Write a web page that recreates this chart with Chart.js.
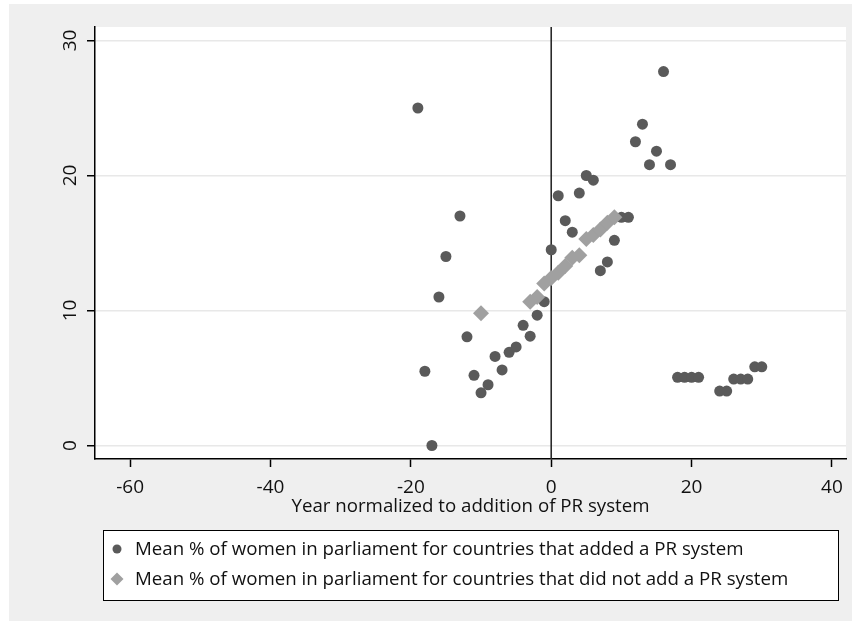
<!DOCTYPE html>
<html><head><meta charset="utf-8">
<script src="https://cdn.jsdelivr.net/npm/chart.js@4/dist/chart.umd.min.js"></script>
<style>html,body{margin:0;padding:0;background:#fff;}canvas{display:block;}</style>
</head><body>
<canvas id="c" width="856" height="625"></canvas>
<script>
// Countries that added a PR system (years relative to addition, mean % women)
const addedYears = [-19,-18,-17,-16,-15,-13,-12,-11,-10,-9,-8,-7,-6,-5,-4,-3,-2,-1,0,1,2,3,4,5,6,7,8,9,10,11,12,13,14,15,16,17,18,19,20,21,24,25,26,27,28,29,30];
const addedMeans = [25.0,5.5,0.0,11.0,14.0,17.0,8.05,5.2,3.9,4.5,6.6,5.6,6.9,7.3,8.9,8.1,9.65,10.65,14.5,18.5,16.65,15.8,18.7,20.0,19.65,12.95,13.6,15.2,16.9,16.9,22.5,23.8,20.8,21.8,27.7,20.8,5.05,5.05,5.05,5.05,4.03,4.03,4.92,4.92,4.92,5.83,5.83];
// Countries that did not add a PR system
const notAddedYears = [-10,-3,-2,-1,0,1,2,3,4,5,6,7,8,9];
const notAddedMeans = [9.8,10.65,11.0,12.0,12.4,12.8,13.3,13.9,14.1,15.3,15.6,16.0,16.5,16.9];

const seriesLabels = [
  'Mean % of women in parliament for countries that added a PR system',
  'Mean % of women in parliament for countries that did not add a PR system'
];
const xAxisTitle = 'Year normalized to addition of PR system';
const xTickValues = [-60,-40,-20,0,20,40];
const yTickValues = [0,10,20,30];

const FONT = '"Open Sans"';
const circleColor = '#5a5a5a';
const diamondColor = '#a0a0a0';

const toPoints = (xs, ys) => xs.map((x, i) => ({x: x, y: ys[i]}));

const bgPlugin = {
  id: 'bg',
  beforeDraw(chart) {
    const ctx = chart.ctx, a = chart.chartArea;
    ctx.save();
    ctx.fillStyle = '#ffffff';
    ctx.fillRect(0, 0, chart.width, chart.height);
    ctx.fillStyle = '#efefef';
    ctx.fillRect(9, 4, 843, 617);
    ctx.fillStyle = '#ffffff';
    ctx.fillRect(a.left, a.top, a.right - a.left, a.bottom - a.top);
    ctx.restore();
  },
  beforeDatasetsDraw(chart) {
    const ctx = chart.ctx, a = chart.chartArea;
    const x0 = chart.scales.x.getPixelForValue(0);
    ctx.save();
    ctx.strokeStyle = '#2a2a2a';
    ctx.lineWidth = 1.6;
    ctx.beginPath();
    ctx.moveTo(x0, a.top);
    ctx.lineTo(x0, a.bottom);
    ctx.stroke();
    ctx.restore();
  },
  afterDraw(chart) {
    const ctx = chart.ctx;
    const ys = chart.scales.y;
    ctx.save();
    // rotated y tick labels
    ctx.fillStyle = '#111';
    ctx.font = '19px ' + FONT;
    ctx.textAlign = 'center';
    ctx.textBaseline = 'middle';
    ys.ticks.forEach(t => {
      const py = ys.getPixelForValue(t.value);
      ctx.save();
      ctx.translate(71, py);
      ctx.rotate(-Math.PI / 2);
      ctx.fillText(String(t.value), 0, 0);
      ctx.restore();
    });
    // legend box
    ctx.fillStyle = '#ffffff';
    ctx.fillRect(103.5, 530.5, 735, 70);
    ctx.strokeStyle = '#000';
    ctx.lineWidth = 1;
    ctx.strokeRect(103.5, 530.5, 735, 70);
    ctx.font = '18.7px ' + FONT;
    ctx.textAlign = 'left';
    ctx.textBaseline = 'middle';
    const rows = [549, 579];
    chart.data.datasets.forEach((ds, i) => {
      const y = rows[i];
      ctx.fillStyle = ds.backgroundColor;
      ctx.beginPath();
      if (ds.pointStyle === 'rectRot') {
        ctx.moveTo(117 - 6.5, y); ctx.lineTo(117, y - 6.5); ctx.lineTo(117 + 6.5, y); ctx.lineTo(117, y + 6.5);
        ctx.closePath();
      } else {
        ctx.arc(117, y, 4.5, 0, Math.PI * 2);
      }
      ctx.fill();
      ctx.fillStyle = '#111';
      ctx.fillText(ds.label, 135, y + 1);
    });
    ctx.restore();
  }
};

new Chart(document.getElementById('c'), {
  type: 'scatter',
  data: {
    datasets: [
      { label: seriesLabels[0], data: toPoints(addedYears, addedMeans), pointStyle: 'circle',
        pointRadius: 5.5, pointHoverRadius: 5.5, backgroundColor: circleColor, borderWidth: 0, order: 1 },
      { label: seriesLabels[1], data: toPoints(notAddedYears, notAddedMeans), pointStyle: 'rectRot',
        pointRadius: 8, pointHoverRadius: 8, backgroundColor: diamondColor, borderWidth: 0, order: 0 }
    ]
  },
  options: {
    responsive: false,
    animation: false,
    devicePixelRatio: 1,
    layout: { padding: { left: 0, right: 10, top: 27, bottom: 0 } },
    plugins: { legend: { display: false }, tooltip: { enabled: false } },
    scales: {
      x: {
        type: 'linear', position: 'bottom', min: -65, max: 42,
        afterBuildTicks: s => { s.ticks = xTickValues.map(v => ({ value: v })); },
        afterFit: s => { s.height = 166; },
        ticks: { color: '#111', font: { family: FONT, size: 19 }, padding: 9, maxRotation: 0, autoSkip: false },
        grid: { drawOnChartArea: false, drawTicks: true, tickLength: 8, tickColor: '#000', tickWidth: 1.5 },
        border: { display: true, color: '#000', width: 1.5 },
        title: { display: true, text: xAxisTitle, color: '#111', font: { family: FONT, size: 18.7 },
                 padding: { top: 0, bottom: 107 } }
      },
      y: {
        type: 'linear', position: 'left', min: -1, max: 31,
        afterBuildTicks: s => { s.ticks = yTickValues.map(v => ({ value: v })); },
        afterFit: s => { s.width = 95; },
        ticks: { color: 'rgba(0,0,0,0)', font: { family: FONT, size: 19 }, autoSkip: false },
        grid: { color: '#e8e8e8', lineWidth: 1.5, drawTicks: true, tickLength: 8, tickColor: '#000', tickWidth: 1.5 },
        border: { display: true, color: '#000', width: 1.5 }
      }
    }
  },
  plugins: [bgPlugin]
});
</script>
</body></html>
